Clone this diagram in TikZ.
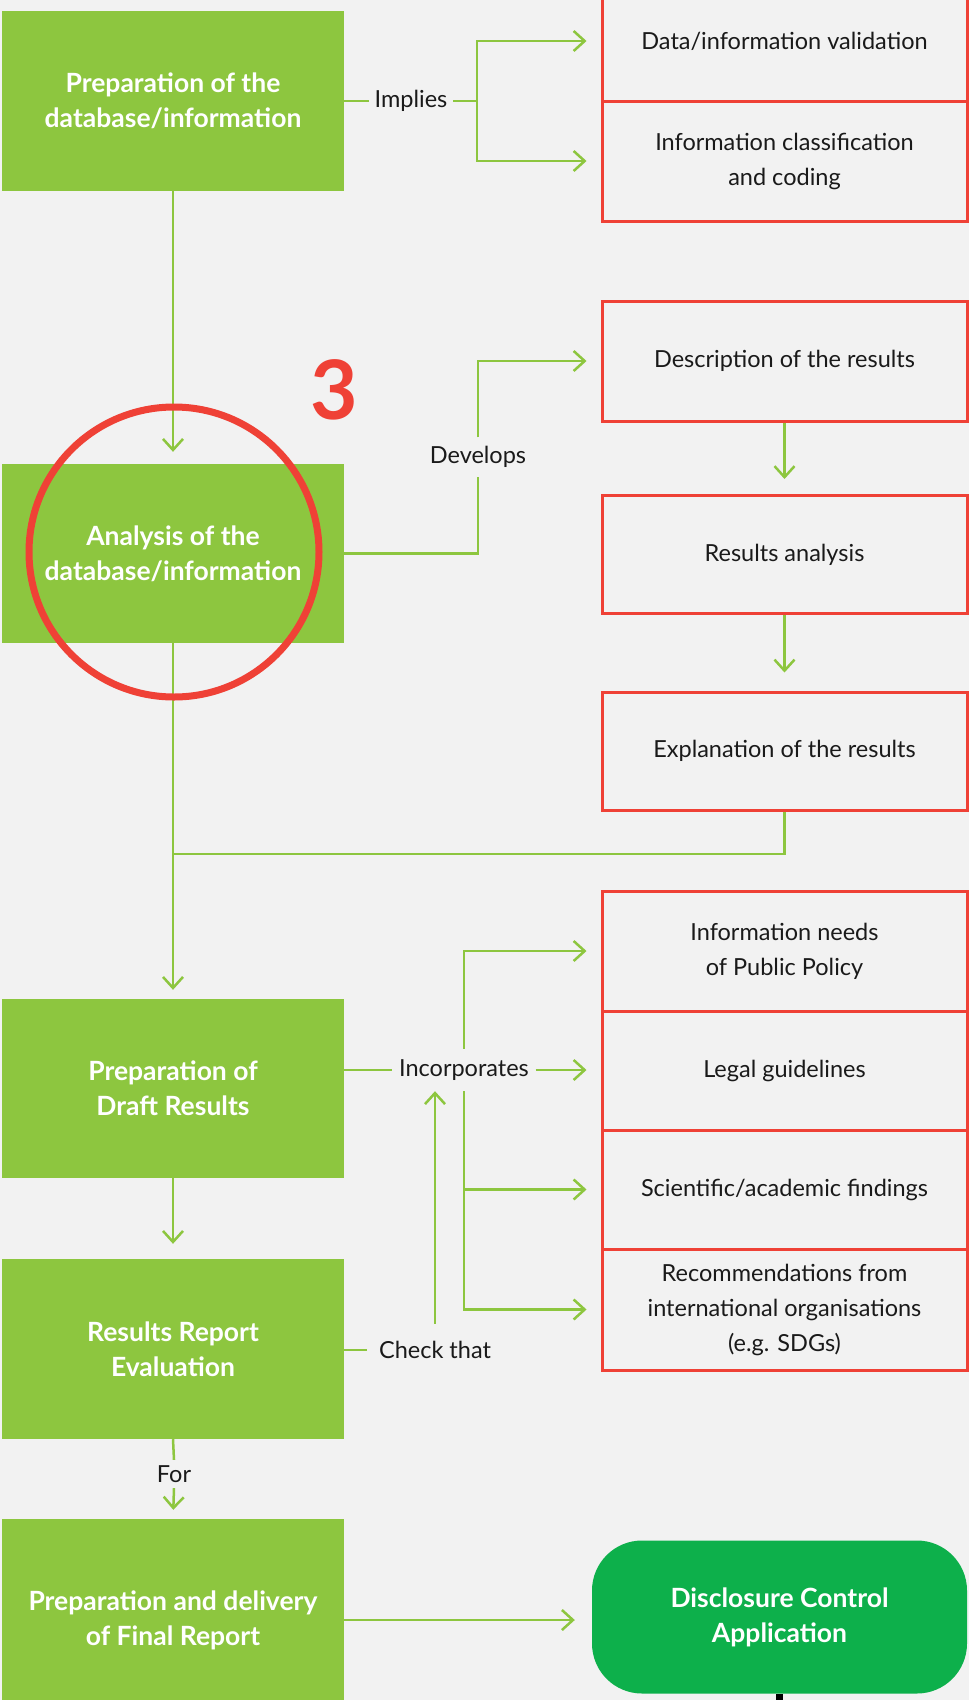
\documentclass[tikz,border=0pt]{standalone}
\usepackage{fontspec}
\setmainfont{Lato}
\usetikzlibrary{arrows.meta}
\definecolor{leaf}{HTML}{8DC63F}
\definecolor{alert}{HTML}{EF4136}
\definecolor{emerald}{HTML}{0DB04B}
\definecolor{paper}{HTML}{F2F2F2}
\definecolor{ink}{HTML}{1A1A1A}
\begin{document}
\begin{tikzpicture}[x=1pt,y=-1pt,
  stage/.style={rectangle, fill=leaf, inner sep=0pt, minimum width=342pt,
    text=white, font=\fontsize{26.5}{35}\selectfont\bfseries, align=center},
  task/.style={rectangle, draw=alert, line width=3pt, inner sep=0pt,
    minimum width=365pt, text=ink, font=\fontsize{23.5}{35}\selectfont, align=center},
  tag/.style={inner sep=0pt, text=ink, font=\fontsize{23.5}{35}\selectfont},
  conn/.style={draw=leaf, line width=2.5pt},
  arr/.style={conn, -{Straight Barb[length=11pt,width=20pt]}},
]
\useasboundingbox (0,0) rectangle (969,1700);
\clip (0,0) rectangle (969,1700);
\fill[paper] (0,0) rectangle (969,1700);

% main stages
\node[stage, minimum height=180pt] (b1) at (173,101) {Preparation of the\\database/information};
\node[stage, minimum height=179pt] (b2) at (173,553.5) {Analysis of the\\database/information};
\node[stage, minimum height=179pt] (b3) at (173,1088.5) {Preparation of\\Draft Results};
\node[stage, minimum height=180pt] (b4) at (173,1349) {Results Report\\Evaluation};
\node[stage, minimum height=202pt] (b5) at (173,1620) {Preparation and delivery\\of Final Report};

% tasks on the right
\node[task, minimum height=120pt] (rA) at (784.5,41) {Data/information validation};
\node[task, minimum height=120pt] (rB) at (784.5,161) {Information classification\\and coding};
\node[task, minimum height=120pt] (rDesc) at (784.5,361) {Description of the results};
\node[task, minimum height=118pt] (rAna) at (784.5,554.5) {Results analysis};
\node[task, minimum height=118pt] (rExp) at (784.5,751) {Explanation of the results};
\node[task, minimum height=120pt] (rInfo) at (784.5,951) {Information needs\\of Public Policy};
\node[task, minimum height=119pt] (rLegal) at (784.5,1070.5) {Legal guidelines};
\node[task, minimum height=119pt] (rSci) at (784.5,1189.5) {Scientific/academic findings};
\node[task, minimum height=121pt] (rRec) at (784.5,1309.5) {Recommendations from\\international organisations\\(e.g. SDGs)};

\node[rectangle, rounded corners=50pt, fill=emerald, inner sep=0pt,
  minimum width=375pt, minimum height=153pt, text=white,
  font=\fontsize{26.5}{35}\selectfont\bfseries, align=center]
  (disc) at (779.5,1617) {Disclosure Control\\Application};
\fill[black] (776,1694) rectangle (783,1700);

% connector labels
\node[tag, minimum width=84pt] (imp) at (411,101) {Implies};
\node[tag, minimum height=39pt] (dev) at (478,457) {Develops};
\node[tag, minimum width=143pt, minimum height=42pt] (inc) at (464,1070) {Incorporates};
\node[tag, minimum width=135pt, minimum height=52pt] (chk) at (435,1350) {Check that};
\node[tag, minimum height=28pt] (for) at (174,1474) {For};

% first stage
\coordinate (j1) at (477,101);
\draw[conn] (b1.east) -- (imp.west);
\draw[conn] (imp.east) -- (j1);
\draw[arr, shorten >=14pt] (j1) |- (rA.west);
\draw[arr, shorten >=14pt] (j1) |- (rB.west);
\draw[arr, shorten >=12pt] (b1.south) -- (b2.north);

% analysis stage
\draw[conn] (b2.east) -| (dev.south);
\draw[arr, shorten >=14pt] (dev.north) |- (rDesc.west);
\draw[arr, shorten >=15pt] (rDesc.south) -- (rAna.north);
\draw[arr, shorten >=18pt] (rAna.south) -- (rExp.north);
\coordinate (jm) at (173,854);
\draw[conn] (rExp.south) |- (jm);
\draw[arr, shorten >=9pt] (b2.south) -- (b3.north);

% draft results
\draw[conn] (inc.west -| b3.east) -- (inc.west);
\draw[arr, shorten >=14pt] (inc.east) -- (inc.east -| rLegal.west);
\draw[arr, shorten >=14pt] (inc.north) |- (rInfo.west);
\draw[arr, shorten >=14pt] (inc.south) |- (rRec.west);
\draw[arr, shorten >=14pt] (inc.south |- rSci.west) -- (rSci.west);
\draw[arr, shorten >=15pt] (b3.south) -- (b4.north);

% evaluation
\draw[conn] (chk.west -| b4.east) -- (chk.west);
\draw[arr] (chk.north) -- (chk.north |- inc.south);
\draw[conn] (b4.south) -- (for.north);
\draw[arr, shorten >=9pt] (for.south) -- (b5.north);

% final report
\draw[arr, shorten >=17pt] (b5.east) -- (b5.east -| disc.west);

% highlight
\node[circle, draw=alert, line width=7pt, minimum size=290pt, inner sep=0pt] (ring) at (174,552) {};
\node[text=alert, inner sep=0pt, font=\fontsize{82}{82}\selectfont\bfseries] (num) at (334,390) {3};
\end{tikzpicture}
\end{document}
